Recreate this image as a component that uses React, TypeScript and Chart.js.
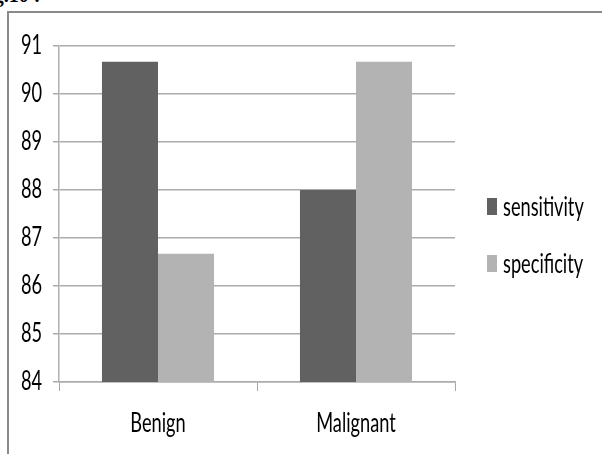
import React, { useEffect, useRef } from "react";
import { Chart, registerables } from "chart.js";
Chart.register(...registerables);

const categories = ["Benign", "Malignant"];
const seriesNames = ["sensitivity", "specificity"];
const sensitivity = [90.67, 88];
const specificity = [86.67, 90.67];
const yTicks = [84, 85, 86, 87, 88, 89, 90, 91];
const seriesColors = ["#616161", "#b3b3b3"];

const FONT = "Lato, 'Open Sans', sans-serif";
const FONT_SIZE = 26;
const SQUEEZE = 0.7;

// Narrow every label horizontally (the reference font is tall and condensed).
const squeezePlugin = {
  id: "squeeze",
  beforeDraw(chart: any) {
    const ctx = chart.ctx as any;
    if (ctx.__squeezed) return;
    const orig = ctx.fillText.bind(ctx);
    ctx.fillText = (text: string, x: number, y: number) => {
      ctx.save();
      ctx.translate(x, y);
      ctx.scale(SQUEEZE, 1);
      orig(text, 0, 0);
      ctx.restore();
    };
    ctx.__squeezed = true;
  },
};

const legendPlugin = {
  id: "sideLegend",
  afterDraw(chart: any) {
    const ctx = chart.ctx;
    const area = chart.chartArea;
    ctx.save();
    ctx.font = `${FONT_SIZE}px ${FONT}`;
    ctx.textBaseline = "alphabetic";
    ctx.textAlign = "left";
    chart.data.datasets.forEach((ds: any, i: number) => {
      const bx = area.right + 32;
      const by = area.top + 152 + i * 57;
      ctx.fillStyle = ds.backgroundColor;
      ctx.fillRect(bx, by, 10, 17);
      ctx.fillStyle = "#000";
      ctx.fillText(ds.label, bx + 16, by + 18);
    });
    ctx.restore();
  },
};

export default function App() {
  const ref = useRef<HTMLCanvasElement | null>(null);
  useEffect(() => {
    if (!ref.current) return;
    const chart = new Chart(ref.current, {
      type: "bar",
      data: {
        labels: categories,
        datasets: [
          { label: seriesNames[0], data: sensitivity, backgroundColor: seriesColors[0] },
          { label: seriesNames[1], data: specificity, backgroundColor: seriesColors[1] },
        ],
      },
      options: {
        animation: false,
        responsive: true,
        maintainAspectRatio: false,
        layout: { padding: { top: 46, right: 147, bottom: 0, left: 0 } },
        datasets: { bar: { categoryPercentage: 0.566, barPercentage: 1.0, borderWidth: 0 } },
        plugins: { legend: { display: false }, tooltip: { enabled: false } },
        scales: {
          x: {
            afterFit: (s: any) => { s.height = 72; },
            grid: { display: true, drawOnChartArea: false, offset: true, tickLength: 9, color: "#a6a6a6", lineWidth: 1 },
            border: { color: "#ababab", width: 1.5 },
            ticks: { color: "#000", font: { family: FONT, size: FONT_SIZE }, padding: 17, maxRotation: 0, autoSkip: false },
          },
          y: {
            min: yTicks[0],
            max: yTicks[yTicks.length - 1],
            afterFit: (s: any) => { s.width = 59; },
            afterBuildTicks: (s: any) => { s.ticks = yTicks.map((v) => ({ value: v })); },
            grid: { color: "#ababab", lineWidth: 1.5, tickLength: 6 },
            border: { color: "#b0b0b0", width: 1.5 },
            ticks: { color: "#000", font: { family: FONT, size: FONT_SIZE }, padding: 11 },
          },
        },
      },
      plugins: [squeezePlugin, legendPlugin],
    });
    return () => chart.destroy();
  }, []);

  return (
    <div style={{ position: "fixed", left: 0, top: 0, width: 602, height: 454, overflow: "hidden", background: "#fff" }}>
      <div style={{ position: "absolute", left: -24, top: -15, fontFamily: "'Liberation Serif', serif", fontWeight: "bold", fontSize: 20, lineHeight: "20px", color: "#000", whiteSpace: "nowrap" }}>Fig.10 :</div>
      <div style={{ position: "absolute", left: 7, top: 11, width: 700, height: 600, borderLeft: "2px solid #8a8a8a", borderTop: "2px solid #8a8a8a" }} />
      <div style={{ position: "absolute", left: 0, top: 0, width: 602, height: 454 }}>
        <canvas ref={ref} />
      </div>
    </div>
  );
}
